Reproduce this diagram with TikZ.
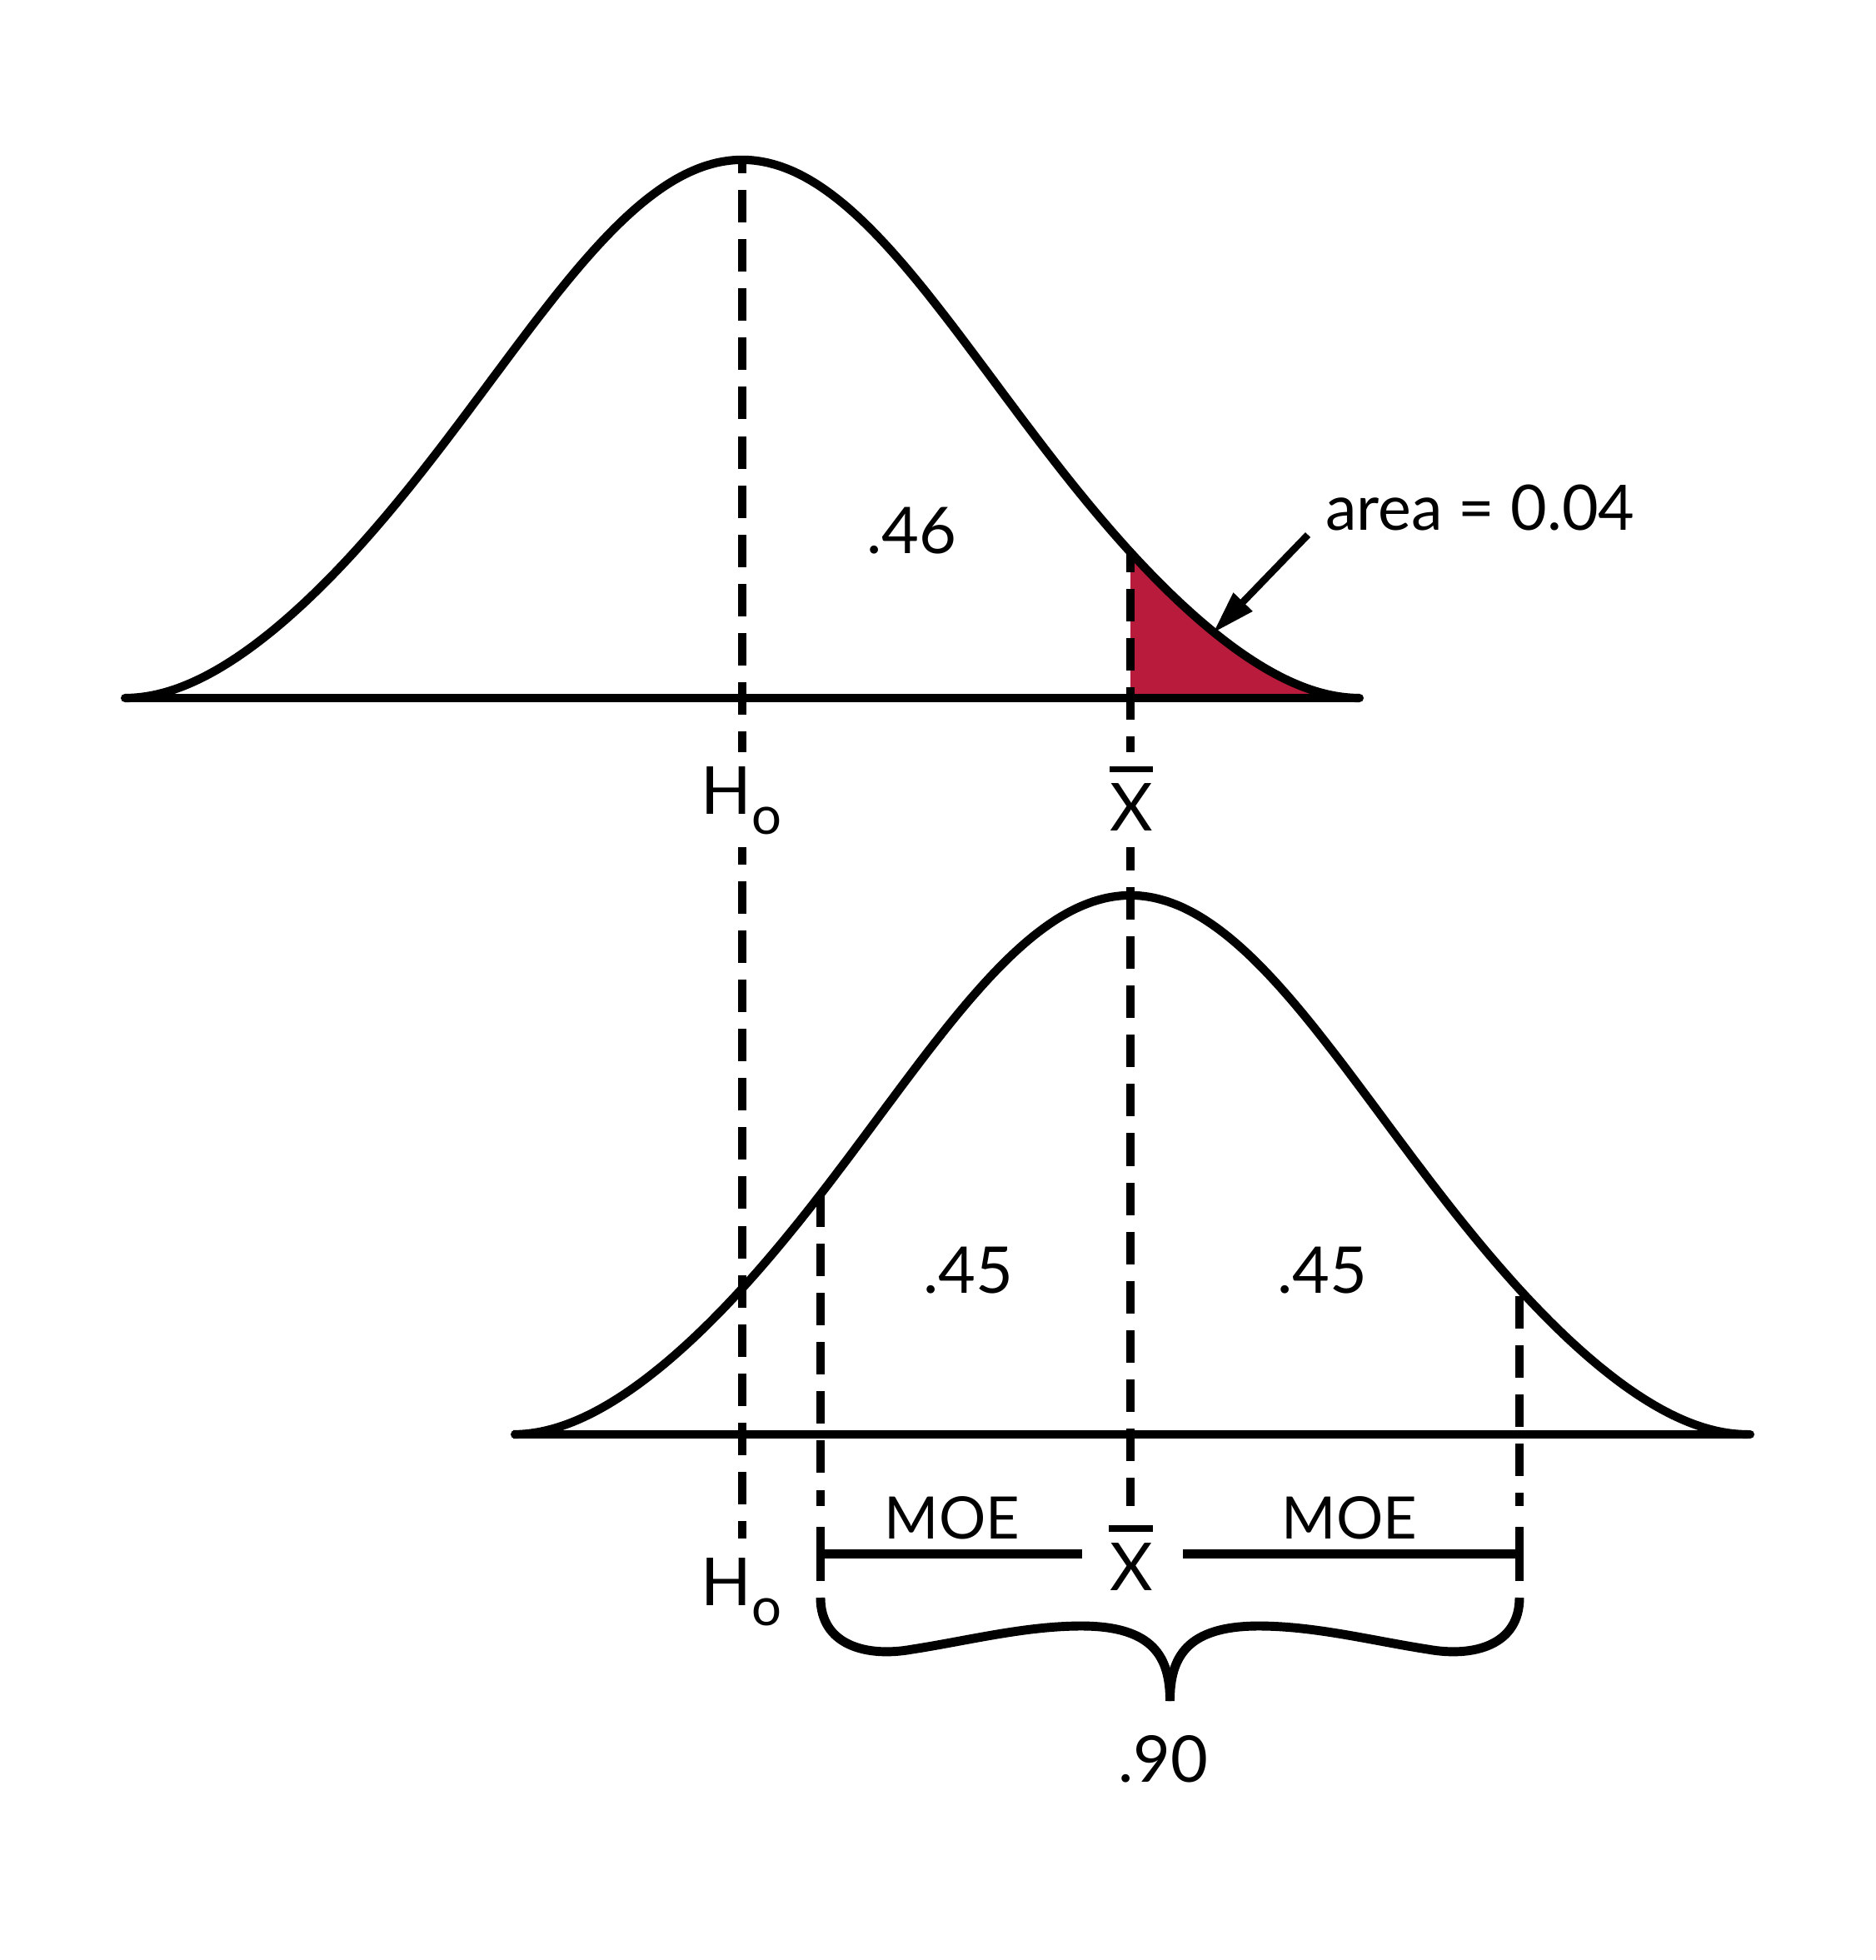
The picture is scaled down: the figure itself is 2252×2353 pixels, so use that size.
\documentclass[tikz,border=0pt]{standalone}
\usepackage{fontspec}
\setmainfont{Lato}
\usetikzlibrary{arrows.meta}
\definecolor{tailred}{RGB}{185,27,60}
\begin{document}
\begin{tikzpicture}[x=0.01cm,y=-0.01cm,
  curve/.style={line width=2.9pt, line join=round},
  axis/.style={line width=2.85pt, line cap=round},
  guide/.style={line width=2.85pt, dash pattern=on 11.1pt off 5.7pt},
  tick/.style={line width=3.1pt},
  bar/.style={line width=2.1pt},
  brace/.style={line width=3.1pt, line join=round},
  lbl/.style={inner sep=0pt, font=\fontsize{22}{22}\selectfont},
  moe/.style={inner sep=0pt, font=\fontsize{20}{20}\selectfont},
  arealbl/.style={inner sep=0pt, font=\fontsize{21.4}{21.4}\selectfont},
  hlbl/.style={inner sep=0pt, font=\fontsize{22.6}{22.6}\selectfont},
  pointer/.style={line width=2.4pt, -{Triangle[length=14.8pt,width=8.5pt]}},
  declare function={bell(\t)=exp(-0.5*(\t/294)*(\t/294))*(1-((\t/741)*(\t/741))^4)^2;}]
\fill[white] (0,0) rectangle (2252,2353);
\useasboundingbox (0,0) rectangle (2252,2353);

% red tail area
\fill[tailred] (1357,838) -- plot[domain=466:741, samples=60, smooth]
  ({891+\x},{838-646*bell(\x)}) -- cycle;

% curves
\draw[curve] plot[domain=-741:741, samples=201, smooth]
  ({891+\x},{838-646*bell(\x)});
\draw[curve] plot[domain=-741:741, samples=201, smooth]
  ({1357+\x},{1722-647*bell(\x)});

% coordinates
\coordinate (hTopA) at (891,192);
\coordinate (hTopB) at (891,903);
\coordinate (hBotA) at (891,1017);
\coordinate (hBotB) at (891,1847);
\coordinate (xTopA) at (1357,664);
\coordinate (xTopB) at (1357,903);
\coordinate (xBotA) at (1357,1017);
\coordinate (xBotB) at (1357,1808);
\coordinate (mLA) at (985,1434);
\coordinate (mLB) at (985,1808);
\coordinate (mRA) at (1824,1556);
\coordinate (mRB) at (1824,1808);

% dashed guides
\draw[guide, dash phase=3.98pt] (hTopB) -- (hTopA);
\draw[guide, dash phase=5.12pt] (hBotB) -- (hBotA);
\draw[guide, dash phase=5.69pt] (xTopB) -- (xTopA);
\draw[guide, dash phase=3.13pt] (xBotA) -- (xBotB);
\draw[guide] (mLA) -- (mLB);
\draw[guide] (mRA) -- (mRB);

% baselines
\coordinate (b1L) at (150,838); \coordinate (b1R) at (1632,838);
\coordinate (b2L) at (618,1722); \coordinate (b2R) at (2101,1722);
\draw[axis] (b1L) -- (b1R);
\draw[axis] (b2L) -- (b2R);

% arrow
\coordinate (arrS) at (1570,642);
\coordinate (arrT) at (1456,760);
\draw[pointer] (arrS) -- (arrT);

% labels
\node[arealbl] (area) at (1777,610) {area = 0.04};
\node[lbl] (p46) at (1094,637) {.46};
\node[lbl] (p45a) at (1162,1525) {.45};
\node[lbl] (p45b) at (1587,1525) {.45};
\node[lbl] (p90) at (1396,2112) {.90};
\node[moe] (moeL) at (1143,1822) {MOE};
\node[moe] (moeR) at (1620,1822) {MOE};

\node[hlbl, anchor=base] (h0top) at (890,977) {H\raisebox{-7.1pt}{\fontsize{18}{18}\selectfont o}};
\node[hlbl, anchor=base] (h0bot) at (890,1927) {H\raisebox{-7.1pt}{\fontsize{18}{18}\selectfont o}};

\node[hlbl] (xtop) at (1358,969) {X};
\draw[bar] (1332,923.5) -- (1384,923.5);
\node[hlbl] (xbot) at (1358,1880.5) {X};
\draw[bar] (1331,1835) -- (1384,1835);

% interval bar
\coordinate (iL) at (985,1865.5);
\coordinate (iLm) at (1299,1865.5);
\coordinate (iRm) at (1420,1865.5);
\coordinate (iR) at (1824,1865.5);
\draw[tick] (iL) -- (iLm);
\draw[tick] (iRm) -- (iR);
\draw[tick] (985,1833) -- (985,1898);
\draw[tick] (1824,1833) -- (1824,1898);

% brace
\coordinate (brL) at (985,1918);
\coordinate (brR) at (1824,1918);
\coordinate (brTip) at (1404.5,2042);
\draw[brace] (brL) .. controls (985,1975) and (1040,1990) .. (1095,1980)
  .. controls (1160,1970) and (1230,1952) .. (1298,1952)
  .. controls (1385,1952) and (1404.5,1990) .. (brTip);
\draw[brace] (brR) .. controls (1824,1975) and (1769,1990) .. (1714,1980)
  .. controls (1649,1970) and (1579,1952) .. (1511,1952)
  .. controls (1424,1952) and (1404.5,1990) .. (brTip);
\end{tikzpicture}
\end{document}
